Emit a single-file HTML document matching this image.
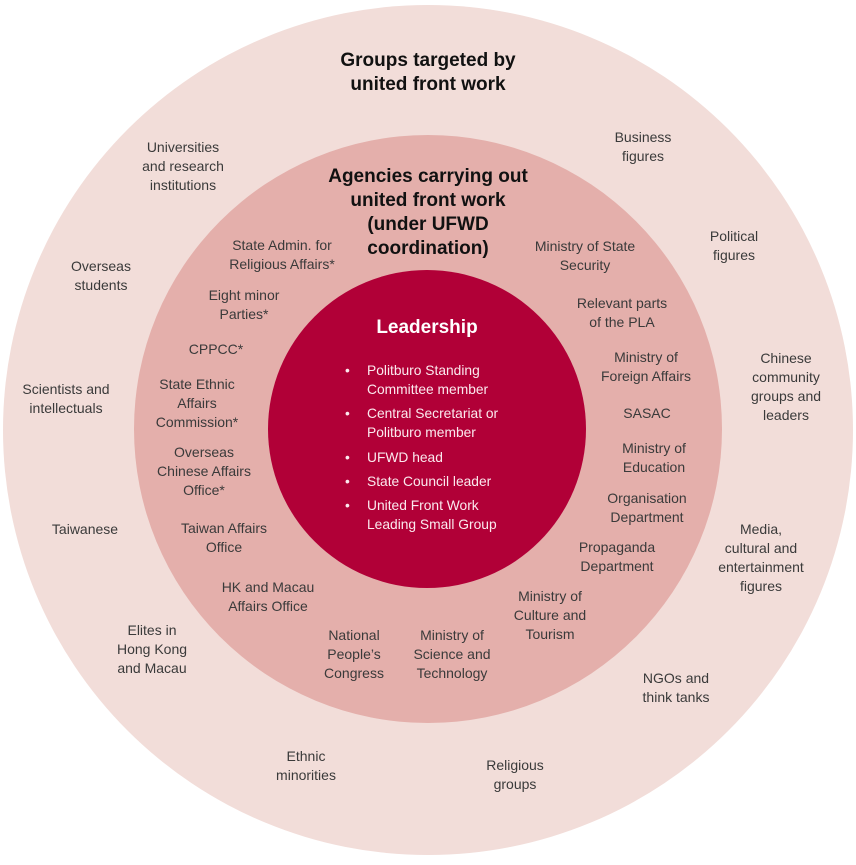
<!DOCTYPE html>
<html><head><meta charset="utf-8"><style>
html,body{margin:0;padding:0;background:#fff;}
svg text{font-family:"Liberation Sans",sans-serif;font-size:14px;fill:#3a3a3a;text-anchor:middle;}
svg text.t{font-weight:bold;font-size:19px;fill:#111;}
svg text.w{fill:#fbe9ee;text-anchor:start;font-size:13.8px;}
svg text.wb{fill:#fff;font-weight:bold;font-size:19px;}
</style></head><body>
<svg width="856" height="860" viewBox="0 0 856 860" xmlns="http://www.w3.org/2000/svg">
<circle cx="428" cy="430" r="425" fill="#f2ddd9"/>
<circle cx="428" cy="429" r="294" fill="#e4afab"/>
<circle cx="427" cy="429" r="159" fill="#b10037"/>

<text class="t" x="428" y="66">Groups targeted by</text>
<text class="t" x="428" y="90">united front work</text>
<text class="t" x="428" y="182">Agencies carrying out</text>
<text class="t" x="428" y="206">united front work</text>
<text class="t" x="428" y="230">(under UFWD</text>
<text class="t" x="428" y="254">coordination)</text>
<text class="wb" x="427" y="333">Leadership</text>

<g>
<text class="w" x="345" y="375">•</text><text class="w" x="367" y="375">Politburo Standing</text><text class="w" x="367" y="394">Committee member</text>
<text class="w" x="345" y="418">•</text><text class="w" x="367" y="418">Central Secretariat or</text><text class="w" x="367" y="437">Politburo member</text>
<text class="w" x="345" y="462">•</text><text class="w" x="367" y="462">UFWD head</text>
<text class="w" x="345" y="486">•</text><text class="w" x="367" y="486">State Council leader</text>
<text class="w" x="345" y="510">•</text><text class="w" x="367" y="510">United Front Work</text><text class="w" x="367" y="529">Leading Small Group</text>
</g>

<text x="183" y="152">Universities</text><text x="183" y="171">and research</text><text x="183" y="190">institutions</text>
<text x="643" y="142">Business</text><text x="643" y="161">figures</text>
<text x="734" y="241">Political</text><text x="734" y="260">figures</text>
<text x="101" y="271">Overseas</text><text x="101" y="290">students</text>
<text x="786" y="363">Chinese</text><text x="786" y="382">community</text><text x="786" y="401">groups and</text><text x="786" y="420">leaders</text>
<text x="66" y="394">Scientists and</text><text x="66" y="413">intellectuals</text>
<text x="85" y="534">Taiwanese</text>
<text x="761" y="534">Media,</text><text x="761" y="553">cultural and</text><text x="761" y="572">entertainment</text><text x="761" y="591">figures</text>
<text x="152" y="635">Elites in</text><text x="152" y="654">Hong Kong</text><text x="152" y="673">and Macau</text>
<text x="676" y="683">NGOs and</text><text x="676" y="702">think tanks</text>
<text x="306" y="761">Ethnic</text><text x="306" y="780">minorities</text>
<text x="515" y="770">Religious</text><text x="515" y="789">groups</text>

<text x="282" y="250">State Admin. for</text><text x="282" y="269">Religious Affairs*</text>
<text x="585" y="251">Ministry of State</text><text x="585" y="270">Security</text>
<text x="244" y="300">Eight minor</text><text x="244" y="319">Parties*</text>
<text x="622" y="308">Relevant parts</text><text x="622" y="327">of the PLA</text>
<text x="216" y="354">CPPCC*</text>
<text x="646" y="362">Ministry of</text><text x="646" y="381">Foreign Affairs</text>
<text x="197" y="389">State Ethnic</text><text x="197" y="408">Affairs</text><text x="197" y="427">Commission*</text>
<text x="647" y="418">SASAC</text>
<text x="204" y="457">Overseas</text><text x="204" y="476">Chinese Affairs</text><text x="204" y="495">Office*</text>
<text x="654" y="453">Ministry of</text><text x="654" y="472">Education</text>
<text x="647" y="503">Organisation</text><text x="647" y="522">Department</text>
<text x="224" y="533">Taiwan Affairs</text><text x="224" y="552">Office</text>
<text x="617" y="552">Propaganda</text><text x="617" y="571">Department</text>
<text x="268" y="592">HK and Macau</text><text x="268" y="611">Affairs Office</text>
<text x="550" y="601">Ministry of</text><text x="550" y="620">Culture and</text><text x="550" y="639">Tourism</text>
<text x="354" y="640">National</text><text x="354" y="659">People’s</text><text x="354" y="678">Congress</text>
<text x="452" y="640">Ministry of</text><text x="452" y="659">Science and</text><text x="452" y="678">Technology</text>
</svg>
</body></html>
